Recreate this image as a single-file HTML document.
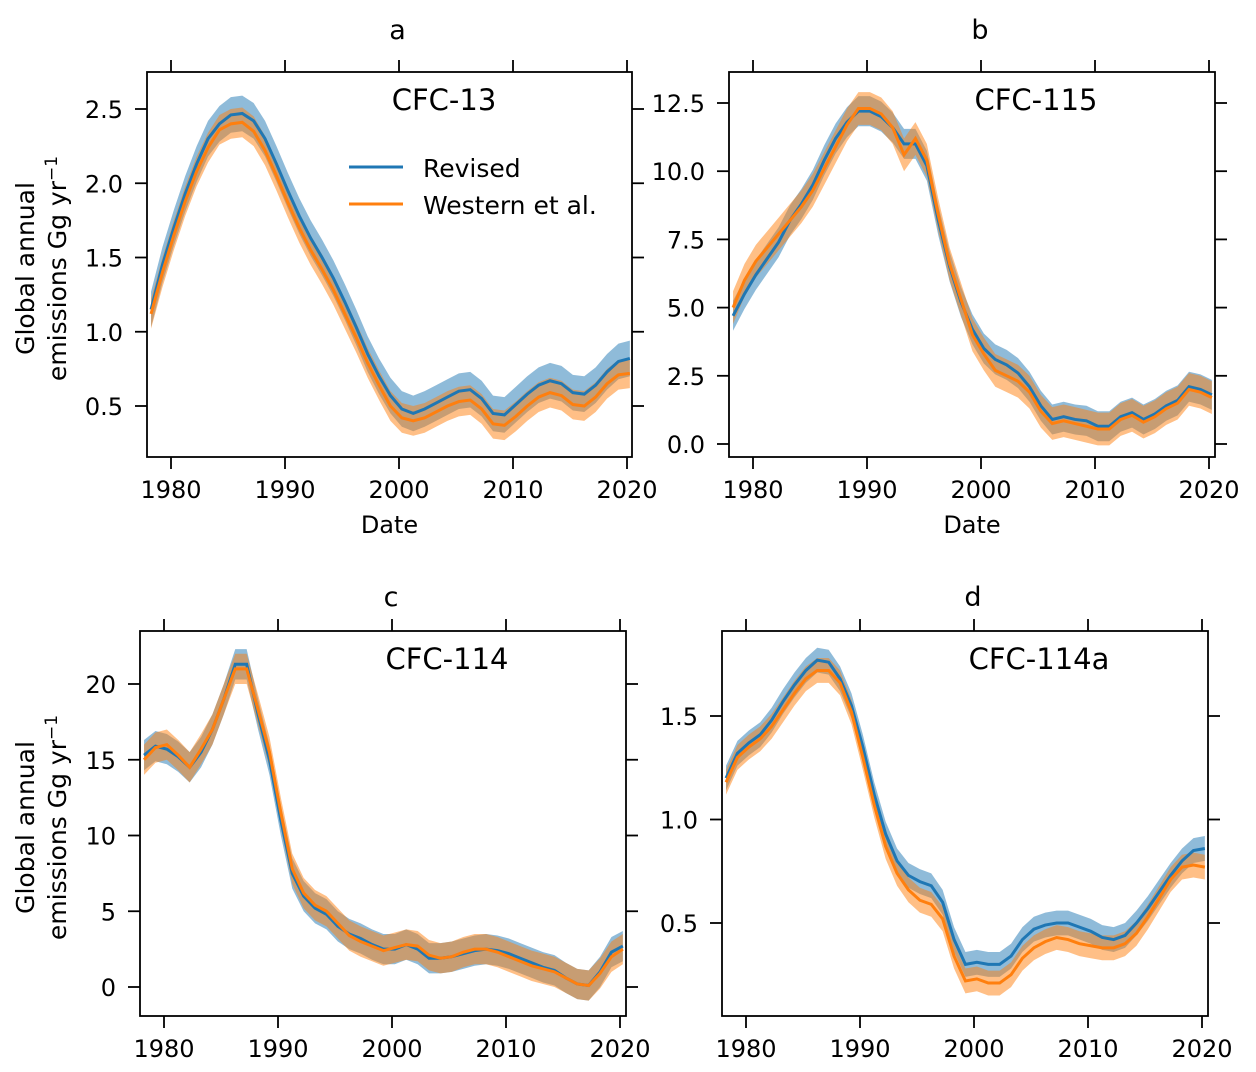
<!DOCTYPE html>
<html><head><meta charset="utf-8"><style>
body{margin:0;background:#fff;}
svg{display:block;font-family:"DejaVu Sans","Liberation Sans",sans-serif;}
</style></head><body>
<svg id="chart" width="1256" height="1072" xmlns="http://www.w3.org/2000/svg"></svg>
<script>
const years = [];
for (let y = 1978; y <= 2020; y++) years.push(y);
const aRevised = [1.15,1.45,1.7,1.93,2.13,2.3,2.4,2.46,2.47,2.42,2.3,2.13,1.95,1.78,1.63,1.5,1.36,1.2,1.03,0.85,0.7,0.57,0.48,0.45,0.48,0.52,0.56,0.6,0.61,0.55,0.45,0.44,0.51,0.58,0.64,0.67,0.65,0.59,0.58,0.64,0.73,0.8,0.82];
const aWestern = [1.12,1.4,1.65,1.88,2.08,2.24,2.36,2.4,2.41,2.35,2.22,2.05,1.87,1.7,1.55,1.42,1.28,1.12,0.96,0.79,0.64,0.5,0.42,0.4,0.42,0.46,0.5,0.53,0.54,0.48,0.38,0.37,0.43,0.5,0.56,0.59,0.57,0.51,0.5,0.56,0.65,0.71,0.72];
const bRevised = [4.7,5.5,6.2,6.8,7.4,8.2,8.8,9.5,10.4,11.2,11.8,12.2,12.2,12.0,11.6,11.0,11.0,10.2,8.2,6.5,5.2,4.2,3.5,3.1,2.9,2.6,2.1,1.4,0.9,1.0,0.9,0.85,0.65,0.65,1.0,1.15,0.9,1.1,1.4,1.6,2.1,2.0,1.8];
const bWestern = [5.0,6.0,6.7,7.2,7.7,8.2,8.7,9.3,10.1,10.9,11.7,12.3,12.3,12.1,11.6,10.6,11.2,10.4,8.4,6.6,5.3,4.0,3.3,2.7,2.5,2.3,1.9,1.2,0.75,0.85,0.75,0.65,0.55,0.55,0.9,1.05,0.8,1.0,1.3,1.5,2.0,1.9,1.7];
const cRevised = [15.3,15.9,15.7,15.2,14.5,15.5,17,19,21.3,21.3,18,15,11,7.5,6,5.2,4.8,4.0,3.5,3.2,2.8,2.5,2.5,2.8,2.5,1.9,1.9,2.0,2.2,2.4,2.5,2.4,2.2,1.9,1.6,1.3,1.1,0.6,0.2,0.1,1.0,2.3,2.7];
const cWestern = [15.0,15.8,16.0,15.3,14.5,15.7,17,19,21.0,21.0,18.3,15.5,11.5,7.8,6.2,5.4,5.0,4.2,3.4,3.0,2.7,2.4,2.6,2.8,2.7,2.1,1.9,2.0,2.3,2.5,2.5,2.3,2.0,1.7,1.4,1.2,1.0,0.6,0.2,0.1,0.9,2.0,2.5];
const dRevised = [1.2,1.32,1.37,1.41,1.48,1.57,1.65,1.72,1.77,1.76,1.68,1.55,1.35,1.12,0.93,0.8,0.73,0.7,0.68,0.6,0.42,0.3,0.31,0.3,0.3,0.34,0.42,0.47,0.49,0.5,0.5,0.48,0.46,0.43,0.42,0.44,0.5,0.57,0.65,0.73,0.8,0.85,0.86];
const dWestern = [1.18,1.3,1.35,1.39,1.45,1.53,1.61,1.68,1.72,1.72,1.66,1.52,1.3,1.07,0.87,0.74,0.66,0.61,0.59,0.52,0.34,0.22,0.23,0.21,0.21,0.25,0.33,0.38,0.41,0.43,0.42,0.4,0.39,0.38,0.38,0.4,0.45,0.53,0.62,0.71,0.77,0.78,0.77];
const xTicks = [1980,1990,2000,2010,2020];
const aTicks = [0.5,1.0,1.5,2.0,2.5];
const bTicks = [0.0,2.5,5.0,7.5,10.0,12.5];
const cTicks = [0,5,10,15,20];
const dTicks = [0.5,1.0,1.5];

const NS = "http://www.w3.org/2000/svg";
const svg = document.getElementById('chart');
function mk(tag, attrs, parent) {
  const e = document.createElementNS(NS, tag);
  for (const k in attrs) e.setAttribute(k, attrs[k]);
  (parent || svg).appendChild(e);
  return e;
}
const panels = [
  {id:'a', title:'a', ty:39, name:'CFC-13', nx:444, box:[147,72,632,457], y0v:2.5, y0p:109, y1v:0.5, y1p:406, x1980:171, rev:aRevised, wes:aWestern, br:0.12, bw:0.1, ticks:aTicks, dec:1, ylabel:true, xlabel:true, legend:true},
  {id:'b', title:'b', ty:39, name:'CFC-115', nx:1036, box:[729,72,1215,457], y0v:12.5, y0p:103, y1v:0, y1p:444, x1980:753, rev:bRevised, wes:bWestern, br:0.55, bw:0.6, ticks:bTicks, dec:1, xlabel:true},
  {id:'c', title:'c', ty:606, name:'CFC-114', nx:447, box:[140,631,626,1016], y0v:20, y0p:684, y1v:0, y1p:987, x1980:164, rev:cRevised, wes:cWestern, br:1.0, bw:1.0, ticks:cTicks, dec:0, ylabel:true},
  {id:'d', title:'d', ty:606, name:'CFC-114a', nx:1039, box:[722,631,1208,1016], y0v:1.5, y0p:716, y1v:0.5, y1p:923, x1980:746, rev:dRevised, wes:dWestern, br:0.06, bw:0.06, ticks:dTicks, dec:1}
];
panels.forEach(p => {
  const [L,T,R,B] = p.box;
  const g = mk('g', {});
  
  
  const X = yr => p.x1980 + (yr - 1980) * 11.4;
  const Y = v => p.y0p + (v - p.y0v) * (p.y1p - p.y0p) / (p.y1v - p.y0v);
  const cp = mk('clipPath', {id:'clip-' + p.id}, g);
  mk('rect', {x:L, y:T, width:R-L, height:B-T}, cp);
  const plot = mk('g', {'clip-path':'url(#clip-' + p.id + ')'}, g);
  const xs = years.map(y => X(y + 0.25));
  function band(vals, w, color, nm) {
    let d = 'M' + vals.map((v,i) => xs[i] + ',' + Y(v + w)).join('L');
    for (let i = vals.length - 1; i >= 0; i--) d += 'L' + xs[i] + ',' + Y(vals[i] - w);
    const e = mk('path', {d: d + 'Z', fill: color, 'fill-opacity': 0.5, stroke: 'none'}, plot);
    
    
  }
  function line(vals, color, nm) {
    const e = mk('path', {d: 'M' + vals.map((v,i) => xs[i] + ',' + Y(v)).join('L'), fill:'none', stroke: color, 'stroke-width': 3}, plot);
    
    
  }
  band(p.rev, p.br, '#1f77b4', 'revised-band');
  band(p.wes, p.bw, '#ff7f0e', 'western-band');
  line(p.rev, '#1f77b4', 'revised-line');
  line(p.wes, '#ff7f0e', 'western-line');
  mk('rect', {x:L, y:T, width:R-L, height:B-T, fill:'none', stroke:'#000', 'stroke-width':1.8}, g);
  xTicks.forEach(t => {
    const x = X(t);
    mk('line', {x1:x, x2:x, y1:B, y2:B+12, stroke:'#000', 'stroke-width':1.8}, g);
    mk('line', {x1:x, x2:x, y1:T, y2:T-12, stroke:'#000', 'stroke-width':1.8}, g);
    const tx = mk('text', {x:x, y:B+41, 'font-size':24, 'text-anchor':'middle'}, g);
    tx.textContent = t;
    
    
  });
  p.ticks.forEach(t => {
    const y = Y(t);
    mk('line', {x1:L, x2:L-12, y1:y, y2:y, stroke:'#000', 'stroke-width':1.8}, g);
    mk('line', {x1:R, x2:R+12, y1:y, y2:y, stroke:'#000', 'stroke-width':1.8}, g);
    const tx = mk('text', {x:L-24, y:y+9, 'font-size':24, 'text-anchor':'end'}, g);
    tx.textContent = t.toFixed(p.dec);
    
    
  });
  const ti = mk('text', {x:(L+R)/2+8, y:p.ty, 'font-size':27, 'text-anchor':'middle'}, g);
  ti.textContent = p.title;
  
  
  const nm = mk('text', {x:p.nx, y:T+38, 'font-size':29, 'text-anchor':'middle'}, g);
  nm.textContent = p.name;
  
  
  if (p.xlabel) {
    const xl = mk('text', {x:(L+R)/2, y:B+76, 'font-size':24, 'text-anchor':'middle'}, g);
    xl.textContent = 'Date';
    
    
  }
  if (p.ylabel) {
    const cy = (T+B)/2 + 4;
    const yl = mk('text', {transform:'translate(34,'+cy+') rotate(-90)', 'font-size':25, 'text-anchor':'middle'}, g);
    yl.textContent = 'Global annual';
    
    
    const yl2 = mk('text', {transform:'translate(66,'+cy+') rotate(-90)', 'font-size':25, 'text-anchor':'middle'}, g);
    yl2.innerHTML = 'emissions Gg yr<tspan dy="-9" font-size="17">−1</tspan>';
    
    
  }
  if (p.legend) {
    const lg = mk('g', {}, g);
    
    
    mk('line', {x1:349, x2:403, y1:167, y2:167, stroke:'#1f77b4', 'stroke-width':3}, lg);
    mk('line', {x1:349, x2:403, y1:204, y2:204, stroke:'#ff7f0e', 'stroke-width':3}, lg);
    const l1 = mk('text', {x:423, y:177, 'font-size':25}, lg);
    l1.textContent = 'Revised';
    
    
    const l2 = mk('text', {x:423, y:214, 'font-size':25}, lg);
    l2.textContent = 'Western et al.';
    
    
  }
});
</script>
</body></html>
